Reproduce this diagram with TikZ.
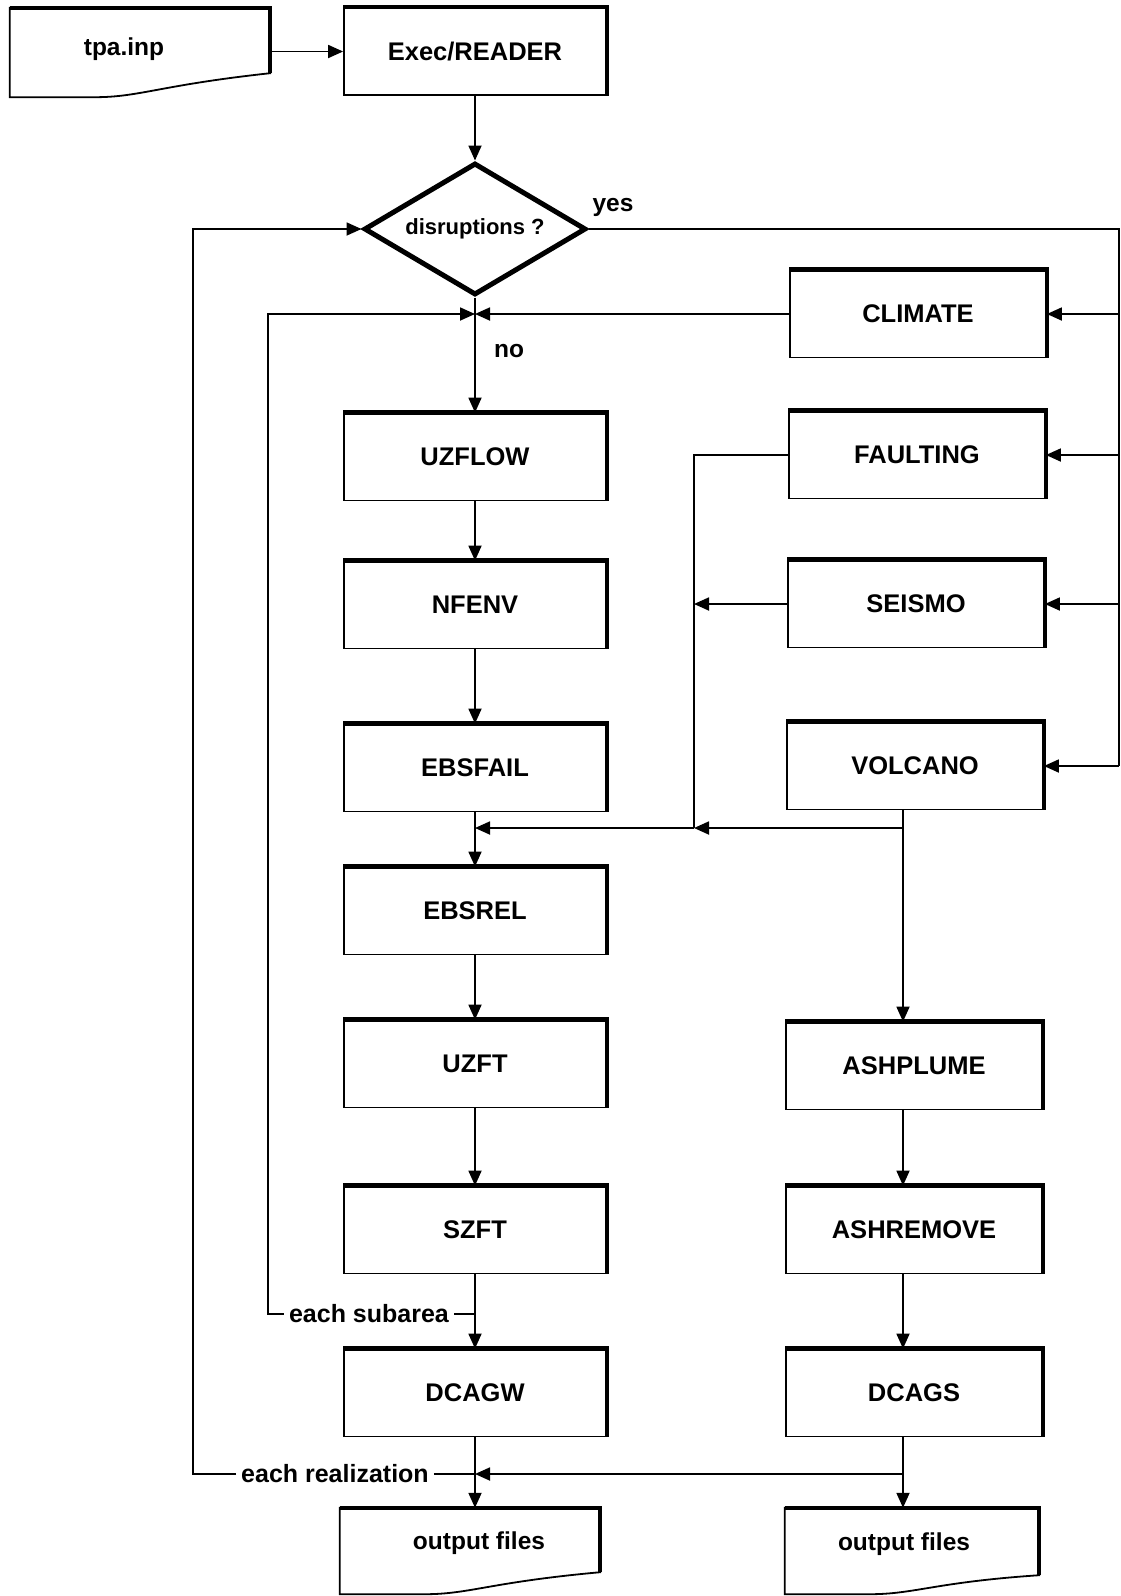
\documentclass[tikz,border=0pt]{standalone}
\usepackage{fontspec}
\setmainfont{Liberation Sans}
\usetikzlibrary{arrows.meta,calc,shapes.geometric}
\newcommand\mydoc[2]{%
  \draw[thin] (#1.north west) -- (#1.north east) -- ($(#1.south east)+(0,-#2)$)
    .. controls ($(#1.south west)+(150,-12)$) and ($(#1.south west)+(130,0)$) .. ($(#1.south west)+(85,0)$)
    -- (#1.south west) -- cycle;
  \draw[line width=4.5pt] (#1.north west) -- (#1.north east) -- ($(#1.south east)+(0,-#2)$);}
\begin{document}
\begin{tikzpicture}[x=1pt,y=-1pt,
  thin/.style={line width=1.8pt},
  arr/.style={thin,-{Triangle[length=15pt,width=13pt]}},
  procbox/.style={draw,thin,minimum width=262pt,minimum height=87pt,inner sep=0pt,font=\fontsize{25.5}{30}\selectfont\bfseries},
  rbox/.style={procbox,minimum width=256pt},
  docnode/.style={minimum width=260pt,minimum height=86pt,inner sep=0pt},
  lbl/.style={inner sep=0pt,inner xsep=5pt,font=\fontsize{25}{30}\selectfont\bfseries},
  doclbl/.style={lbl,font=\fontsize{24.5}{30}\selectfont\bfseries},
  decision/.style={diamond,draw,line width=5pt,shape aspect=1.68,minimum width=222pt,minimum height=132pt,inner sep=0pt,font=\fontsize{22}{26}\selectfont\bfseries},
]
\fill[white] (0,0) rectangle (1121,1596);
\useasboundingbox (0,0) rectangle (1121,1596);

% nodes
\node[docnode,minimum height=89pt] (tpa) at (140,52.5) {};
\node[doclbl] (tpat) at (124,49) {tpa.inp};
\node[procbox] (reader) at (475,51.5) {Exec/READER};
\node[decision] (dia) at (475,229) {disruptions ?};
\node[doclbl] (yes) at (613,207) {yes};
\node[doclbl] (no) at (509,351) {no};
\node[rbox] (climate) at (918,314) {CLIMATE};
\node[procbox] (uzflow) at (475,457) {UZFLOW};
\node[rbox] (faulting) at (917,455) {FAULTING};
\node[procbox] (nfenv) at (475,605) {NFENV};
\node[rbox] (seismo) at (916,604) {SEISMO};
\node[procbox] (ebsfail) at (475,768) {EBSFAIL};
\node[rbox] (volcano) at (915,766) {VOLCANO};
\node[procbox] (ebsrel) at (475,911) {EBSREL};
\node[procbox] (uzft) at (475,1064) {UZFT};
\node[rbox] (ashplume) at (914,1066) {ASHPLUME};
\node[procbox] (szft) at (475,1230) {SZFT};
\node[rbox] (ashremove) at (914,1230) {ASHREMOVE};
\node[procbox] (dcagw) at (475,1393) {DCAGW};
\node[rbox] (dcags) at (914,1393) {DCAGS};
\node[docnode] (out1) at (470,1551) {};
\node[doclbl] (out1t) at (479,1543) {output files};
\node[docnode,minimum width=254pt] (out2) at (912,1551) {};
\node[doclbl] (out2t) at (904,1544) {output files};
\node[lbl] (sub) at (369,1314) {each subarea};
\node[lbl] (real) at (335,1474) {each realization};

% shadow edges
\foreach \n in {reader,climate,uzflow,faulting,nfenv,seismo,ebsfail,volcano,ebsrel,uzft,ashplume,szft,ashremove,dcagw,dcags}
  \draw[line width=4.5pt] (\n.north west) -- (\n.north east) -- (\n.south east);
\mydoc{tpa}{24}
\mydoc{out1}{22}
\mydoc{out2}{19}

% coordinates
\coordinate (ytop) at (1119,229);
\coordinate (sl) at (268,314);
\coordinate (rl) at (193,229);
\coordinate (fv) at (694,828);
\coordinate (rc) at (903,0);

% connectors
\draw[arr] (tpa.east |- reader.west) -- (reader.west);
\draw[arr] (reader.south) -- (dia.north);
\draw[thin] (dia.east) -- (ytop) -- (ytop |- volcano.east);
\draw[arr] (ytop |- climate.east) -- (climate.east);
\draw[arr] (ytop |- faulting.east) -- (faulting.east);
\draw[arr] (ytop |- seismo.east) -- (seismo.east);
\draw[arr] (ytop |- volcano.east) -- (volcano.east);
\draw[arr] (dia.south) -- (uzflow.north);
\draw[arr] (climate.west) -- (climate.west -| dia.south);
\draw[arr] (sub.west) -| (sl) -- (sl -| dia.south);
\draw[thin] (sub.east) -- (sub.east -| szft.south);
\draw[arr] (uzflow.south) -- (nfenv.north);
\draw[arr] (nfenv.south) -- (ebsfail.north);
\draw[arr] (ebsfail.south) -- (ebsrel.north);
\draw[arr] (ebsrel.south) -- (uzft.north);
\draw[arr] (uzft.south) -- (szft.north);
\draw[arr] (szft.south) -- (dcagw.north);
\draw[arr] (dcagw.south) -- (dcagw.south |- out1.north);
\draw[thin] (faulting.west) -| (fv);
\draw[arr] (seismo.west) -- (seismo.west -| fv);
\draw[arr] (rc |- fv) -- (fv);
\draw[arr] (fv) -- (fv -| ebsrel.north);
\draw[thin] (rc |- volcano.south) -- (rc |- fv);
\draw[arr] (rc |- fv) -- (rc |- ashplume.north);
\draw[arr] (rc |- ashplume.south) -- (rc |- ashremove.north);
\draw[arr] (rc |- ashremove.south) -- (rc |- dcags.north);
\draw[arr] (rc |- dcags.south) -- (rc |- out2.north);
\draw[arr] (real.west) -| (rl) -- (dia.west);
\draw[thin] (real.east) -- (real.east -| dcagw.south);
\draw[arr] (rc |- real.east) -- (real.east -| dcagw.south);
\end{tikzpicture}
\end{document}
